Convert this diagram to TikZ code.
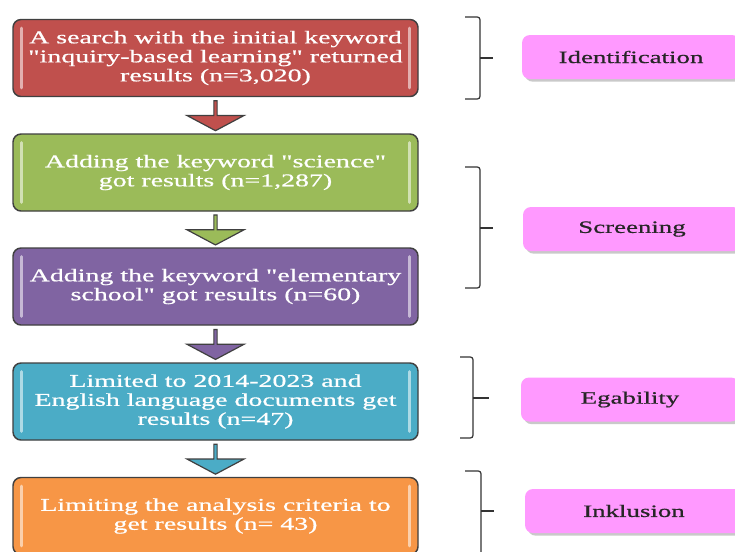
\documentclass[tikz,border=0pt]{standalone}
\usepackage{fontspec}
\setmainfont{Liberation Serif}
\newfontfamily\boxfont[FakeStretch=1.55, FakeBold=0.7]{Liberation Serif}
\usepackage{xcolor}
\usepackage{tikz}
\usetikzlibrary{shapes.arrows, shadows, calc}
\definecolor{stepred}{HTML}{C0504D}
\definecolor{stepgreen}{HTML}{9BBB59}
\definecolor{steppurple}{HTML}{8064A2}
\definecolor{stepblue}{HTML}{4BACC6}
\definecolor{steporange}{HTML}{F79646}
\definecolor{phasepink}{HTML}{FF99FF}
\definecolor{rimgray}{HTML}{404040}

\begin{document}
\begin{tikzpicture}[x=0.75pt, y=-0.75pt]
\useasboundingbox[fill=white] (0,0) rectangle (735,551);
% Define styles
\tikzset{
  stepbox/.style={rectangle, rounded corners=6pt, draw=rimgray, line width=1.1pt, fill=#1,
    text=white, minimum width=303.75pt, minimum height=57.75pt, align=center,
    font=\boxfont\fontsize{13.5}{14.25}\selectfont,
    path picture={
      \draw[line width=2.2pt, line cap=round, draw=#1!45!white]
        ([xshift=6.4pt, yshift=-6.5pt]path picture bounding box.north west) --
        ([xshift=6.4pt, yshift=6.5pt]path picture bounding box.south west);
      \draw[line width=2.2pt, line cap=round, draw=#1!45!white]
        ([xshift=-6.4pt, yshift=-6.5pt]path picture bounding box.north east) --
        ([xshift=-6.4pt, yshift=6.5pt]path picture bounding box.south east);
    }},
  flowarrow/.style={single arrow, shape border rotate=270, draw=rimgray, line width=0.9pt,
    fill=#1, minimum height=22.5pt, minimum width=42.75pt, single arrow head extend=7.5pt,
    single arrow tip angle=124, inner sep=0pt},
  phase/.style={rectangle, rounded corners=6pt, fill=phasepink, text=black!85,
    minimum width=163.5pt, minimum height=33pt, font=\boxfont\fontsize{13}{15}\selectfont,
    drop shadow={shadow xshift=2pt, shadow yshift=-2pt, opacity=0.35, fill=black!60}},
  bracket/.style={draw=black!80, line width=0.9pt, rounded corners=2pt}
}
% Define nodes
\node[stepbox=stepred] (search) at (215.5,58) {A search with the initial keyword\\"inquiry-based learning" returned\\results (n=3,020)};
\node[stepbox=stepgreen] (science) at (215.5,172.5) {Adding the keyword "science"\\got results (n=1,287)};
\node[stepbox=steppurple] (school) at (215.5,286.5) {Adding the keyword "elementary\\school" got results (n=60)};
\node[stepbox=stepblue] (period) at (215.5,401.5) {Limited to 2014-2023 and\\English language documents get\\results (n=47)};
\node[stepbox=steporange] (criteria) at (215.5,516) {Limiting the analysis criteria to\\get results (n= 43)};
\node[phase] (ident) at (631,57) {Identification};
\node[phase] (screen) at (632,229) {Screening};
\node[phase] (elig) at (630,399.5) {Egability};
\node[phase] (incl) at (634,511) {Inklusion};
% Connect the nodes
\node[flowarrow=stepred] (arrow1) at ($(search.south)!0.5!(science.north)$) {};
\node[flowarrow=stepgreen] (arrow2) at ($(science.south)!0.5!(school.north)$) {};
\node[flowarrow=steppurple] (arrow3) at ($(school.south)!0.5!(period.north)$) {};
\node[flowarrow=stepblue] (arrow4) at ($(period.south)!0.5!(criteria.north)$) {};
% Brackets
\draw[bracket] (465,17) -- (480,17) -- (480,99) -- (465,99);
\draw[bracket] (480,58) -- (493,58);
\draw[bracket] (465,167) -- (480,167) -- (480,288) -- (465,288);
\draw[bracket] (480,228) -- (493,228);
\draw[bracket] (460,357) -- (473,357) -- (473,438) -- (460,438);
\draw[bracket] (473,398) -- (489,398);
\draw[bracket] (465,471) -- (481,471) -- (481,560);
\draw[bracket] (481,511) -- (494,511);
\end{tikzpicture}
\end{document}
